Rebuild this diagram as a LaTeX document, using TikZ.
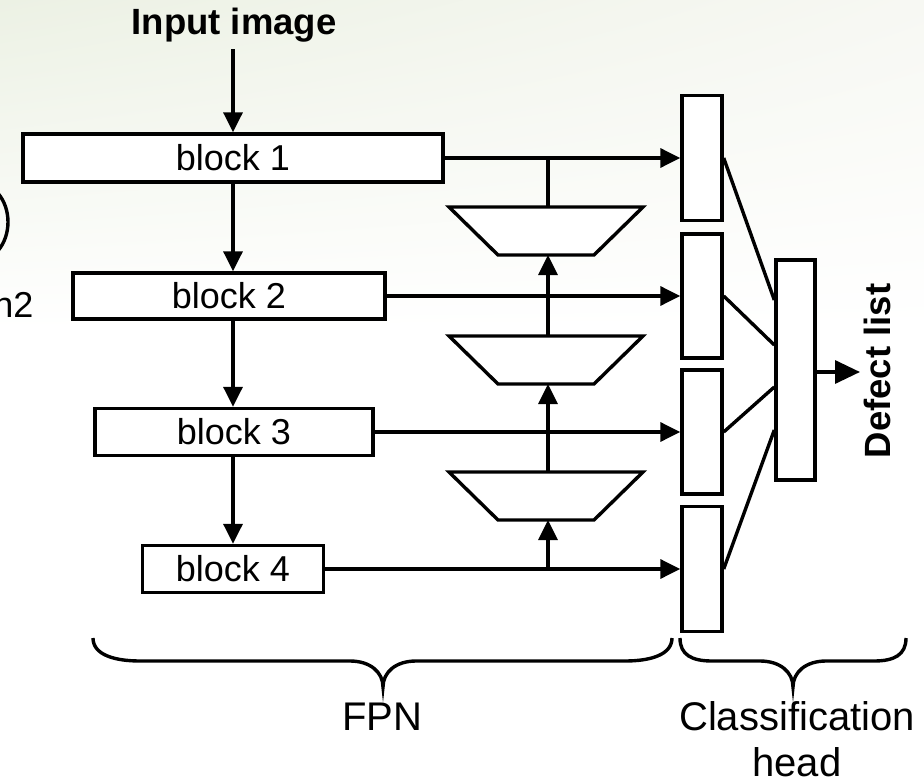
\documentclass[tikz,border=0pt]{standalone}
\usepackage{fontspec}
\setmainfont{Liberation Sans}
\usetikzlibrary{arrows.meta,shadings}
\definecolor{bgtl}{RGB}{236,241,228}
\definecolor{bgtr}{RGB}{247,248,243}
\begin{document}
\begin{tikzpicture}[x=1pt,y=-1pt,line width=3.4pt,
  box/.style={draw,line width=3.4pt,fill=white,inner sep=0pt,font=\fontsize{36}{42}\selectfont},
  lbl/.style={font=\fontsize{36}{42}\selectfont,inner sep=0pt},
  biglbl/.style={font=\fontsize{40}{46}\selectfont,inner sep=0pt},
  blbl/.style={font=\fontsize{36.5}{42}\selectfont\bfseries,inner sep=0pt},
  arr/.style={-{Triangle[length=20pt,width=19pt]}},
  bigarr/.style={-{Triangle[length=25pt,width=23pt]}},
  conn/.style={line width=3.4pt}]
\useasboundingbox (0,0) rectangle (924,781);
\clip (0,0) rectangle (924,781);
\fill[white] (0,0) rectangle (924,781);
\shade[upper left=bgtl,upper right=bgtr,lower left=white,lower right=white] (0,0) rectangle (924,330);

% cut-off remnants at the left edge
\draw[conn] (-25,222) ellipse [x radius=33pt,y radius=40pt];
\node[lbl,anchor=base east] (cut) at (35,317) {n2};

% backbone blocks
\node[blbl,anchor=base] (in) at (234,35) {Input image};
\node[box,minimum width=420pt,minimum height=48pt] (b1) at (233,158) {block 1};
\node[box,minimum width=312pt,minimum height=46pt] (b2) at (229,296) {block 2};
\node[box,minimum width=278pt,minimum height=47pt] (b3) at (234,432) {block 3};
\node[box,minimum width=181pt,minimum height=47pt] (b4) at (233,569) {block 4};

\coordinate (ia) at ([yshift=-5pt]in.south);
\draw[arr] (ia -| b1.north) -- (b1.north);
\draw[arr] (b1.south) -- (b1.south |- b2.north);
\draw[arr] (b1.south |- b2.south) -- (b1.south |- b3.north);
\draw[arr] (b1.south |- b3.south) -- (b1.south |- b4.north);

% head boxes
\node[box,minimum width=40pt,minimum height=125pt] (r1) at (702,158) {};
\node[box,minimum width=40pt,minimum height=124pt] (r2) at (702,296) {};
\node[box,minimum width=40pt,minimum height=124pt] (r3) at (702,432) {};
\node[box,minimum width=40pt,minimum height=125pt] (r4) at (702,569) {};
\node[box,minimum width=39pt,minimum height=220pt] (big) at (795.5,370) {};

% lateral arrows
\draw[arr] (b1.east) -- (b1.east -| r1.west);
\draw[arr] (b2.east) -- (b2.east -| r2.west);
\draw[arr] (b3.east) -- (b3.east -| r3.west);
\draw[arr] (b4.east) -- (b4.east -| r4.west);

% trapezoids (upsampling)
\foreach \t/\y in {1/207,2/336,3/472}{
  \draw[conn,fill=white] (449,\y) -- (643,\y) -- (594,\y+48) -- (498,\y+48) -- cycle;
  \coordinate (t\t n) at (548,\y);
  \coordinate (t\t s) at (548,\y+48);
}
\draw[conn] (t1n) -- (t1n |- b1.east);
\draw[arr] (t2n) -- (t1s);
\draw[arr] (t3n) -- (t2s);
\draw[arr] (t3s |- b4.east) -- (t3s);

% head connections
\coordinate (k1) at (big.west |- 0,300);
\coordinate (k2) at (big.west |- 0,345);
\coordinate (k3) at (big.west |- 0,387);
\coordinate (k4) at (big.west |- 0,430);
\draw[conn] (r1.east) -- (k1);
\draw[conn] (r2.east) -- (k2);
\draw[conn] (r3.east) -- (k3);
\draw[conn] (r4.east) -- (k4);

\coordinate (dl) at (860,372);
\draw[bigarr] (big.east |- dl) -- (dl);
\node[blbl,rotate=90,anchor=base] (dlt) at (890,371) {Defect list};

% braces
\draw[conn] (93,638) .. controls (93,655) and (115,661) .. (140,661) -- (350,661)
  .. controls (370,661) and (383,672) .. (383,687)
  .. controls (383,672) and (396,661) .. (416,661) -- (625,661)
  .. controls (650,661) and (672,655) .. (672,638);
\draw[conn] (680,638) .. controls (680,655) and (692,661) .. (712,661) -- (760,661)
  .. controls (780,661) and (793,672) .. (793,687)
  .. controls (793,672) and (806,661) .. (826,661) -- (874,661)
  .. controls (894,661) and (906,655) .. (906,638);

\node[biglbl,anchor=base] (fpn) at (382,730) {FPN};
\node[biglbl,anchor=base] (cls) at (797,730) {Classification};
\node[biglbl,anchor=base] (hd) at (797,776) {head};
\end{tikzpicture}
\end{document}
